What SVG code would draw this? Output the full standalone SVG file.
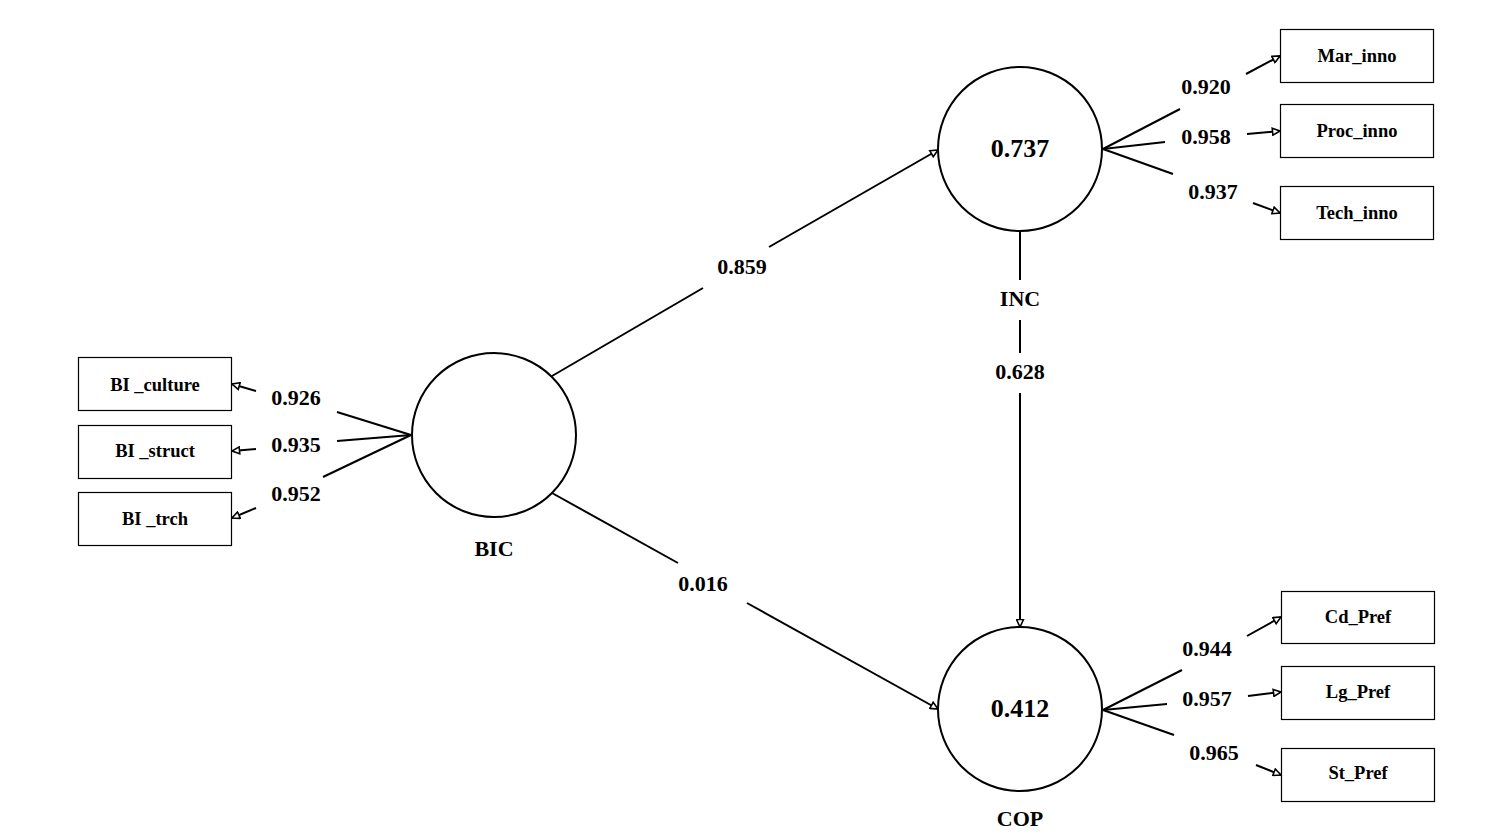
<svg xmlns="http://www.w3.org/2000/svg" width="1498" height="838" viewBox="0 0 1498 838">
<style>
text{font-family:"Liberation Serif","Times New Roman",serif;font-weight:bold;fill:#000;text-anchor:middle}
.lv{font-size:22px}
.ind{font-size:18.5px}
.big{font-size:26px}
.box{fill:#fff;stroke:#000;stroke-width:1.2}
.circ{fill:#fff;stroke:#000;stroke-width:2}
.ln{stroke:#000;stroke-width:2;fill:none}
.ar{stroke:#000;stroke-width:2;fill:none;marker-end:url(#tri)}
</style>
<defs>
<marker id="tri" markerUnits="userSpaceOnUse" markerWidth="10" markerHeight="9" refX="7.5" refY="3.5" orient="auto" viewBox="-1 -1 10 9">
<path d="M0,0 L7.5,3.5 L0,7 z" fill="#fff" stroke="#000" stroke-width="1.6"/>
</marker>
</defs>
<rect width="1498" height="838" fill="#fff"/>
<g id="connectors">
<line class="ln" x1="552" y1="376" x2="703" y2="288"/>
<line class="ar" x1="769" y1="247" x2="938" y2="150"/>
<text class="lv" x="742" y="274">0.859</text>
<line class="ln" x1="552" y1="493" x2="678" y2="563"/>
<line class="ar" x1="747" y1="603" x2="938" y2="709"/>
<text class="lv" x="703" y="591">0.016</text>
<line class="ln" x1="1020" y1="231" x2="1020" y2="280"/>
<line class="ln" x1="1020" y1="320" x2="1020" y2="353"/>
<line class="ar" x1="1020" y1="393" x2="1020" y2="627"/>
<text class="lv" x="1020" y="379">0.628</text>
<line class="ln" x1="411" y1="435" x2="337" y2="412"/>
<line class="ar" x1="256" y1="391" x2="232" y2="384"/>
<text class="lv" x="296" y="405">0.926</text>
<line class="ln" x1="411" y1="435" x2="337" y2="441"/>
<line class="ar" x1="256" y1="449" x2="232" y2="451"/>
<text class="lv" x="296" y="452">0.935</text>
<line class="ln" x1="411" y1="435" x2="323" y2="477"/>
<line class="ar" x1="256" y1="508" x2="232" y2="518"/>
<text class="lv" x="296" y="501">0.952</text>
<line class="ln" x1="1103" y1="149" x2="1180" y2="109"/>
<line class="ar" x1="1246" y1="74" x2="1280" y2="56"/>
<text class="lv" x="1206" y="94">0.920</text>
<line class="ln" x1="1103" y1="149" x2="1165" y2="142"/>
<line class="ar" x1="1247" y1="134" x2="1280" y2="131"/>
<text class="lv" x="1206" y="144">0.958</text>
<line class="ln" x1="1103" y1="149" x2="1173" y2="174"/>
<line class="ar" x1="1253" y1="203" x2="1280" y2="213"/>
<text class="lv" x="1213" y="199">0.937</text>
<line class="ln" x1="1103" y1="710" x2="1182" y2="670"/>
<line class="ar" x1="1247" y1="636" x2="1281" y2="617"/>
<text class="lv" x="1207" y="656">0.944</text>
<line class="ln" x1="1103" y1="710" x2="1167" y2="704"/>
<line class="ar" x1="1248" y1="696" x2="1281" y2="692"/>
<text class="lv" x="1207" y="706">0.957</text>
<line class="ln" x1="1103" y1="710" x2="1174" y2="735"/>
<line class="ar" x1="1256" y1="765" x2="1281" y2="775"/>
<text class="lv" x="1214" y="760">0.965</text>
</g>
<g id="BIC">
<circle class="circ" cx="494" cy="435" r="82"/>
<text class="lv" x="494" y="556">BIC</text>
</g>
<g id="INC">
<circle class="circ" cx="1020" cy="149" r="82"/>
<text class="big" x="1020" y="157">0.737</text>
<text class="lv" x="1020" y="306">INC</text>
</g>
<g id="COP">
<circle class="circ" cx="1020" cy="709" r="82"/>
<text class="big" x="1020" y="717">0.412</text>
<text class="lv" x="1020" y="826">COP</text>
</g>
<g id="BI_culture"><rect class="box" x="78.5" y="357.5" width="153" height="53"/><text class="ind" x="155" y="391">BI _culture</text></g>
<g id="BI_struct"><rect class="box" x="78.5" y="425.5" width="153" height="53"/><text class="ind" x="155" y="457">BI _struct</text></g>
<g id="BI_trch"><rect class="box" x="78.5" y="492.5" width="153" height="53"/><text class="ind" x="155" y="525">BI _trch</text></g>
<g id="Mar_inno"><rect class="box" x="1280.5" y="29.5" width="153" height="53"/><text class="ind" x="1357" y="62">Mar_inno</text></g>
<g id="Proc_inno"><rect class="box" x="1280.5" y="104.5" width="153" height="53"/><text class="ind" x="1357" y="137">Proc_inno</text></g>
<g id="Tech_inno"><rect class="box" x="1280.5" y="186.5" width="153" height="53"/><text class="ind" x="1357" y="219">Tech_inno</text></g>
<g id="Cd_Pref"><rect class="box" x="1281.5" y="591.5" width="153" height="52"/><text class="ind" x="1358" y="623">Cd_Pref</text></g>
<g id="Lg_Pref"><rect class="box" x="1281.5" y="666.5" width="153" height="53"/><text class="ind" x="1358" y="698">Lg_Pref</text></g>
<g id="St_Pref"><rect class="box" x="1281.5" y="748.5" width="153" height="53"/><text class="ind" x="1358" y="779">St_Pref</text></g>
</svg>
